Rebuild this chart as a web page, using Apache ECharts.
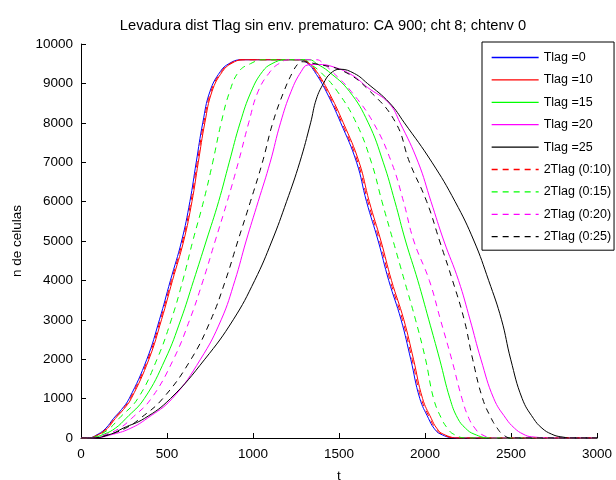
<!DOCTYPE html>
<html>
<head>
<meta charset="utf-8">
<script src="https://cdn.jsdelivr.net/npm/echarts@6/dist/echarts.min.js"></script>
<style>
html,body{margin:0;padding:0;background:#fff;}
#chart{width:616px;height:480px;}
</style>
</head>
<body>
<div id="chart"></div>
<script>
// ---- data (t, n de celulas) ----
var titleText = 'Levadura dist Tlag sin env. prematuro: CA 900; cht 8; chtenv 0';
var seriesNames = ['Tlag =0', 'Tlag =10', 'Tlag =15', 'Tlag =20', 'Tlag =25',
  '2Tlag (0:10)', '2Tlag (0:15)', '2Tlag (0:20)', '2Tlag (0:25)'];

var tlag0 = [[0,0],[40,0],[100,100],[145,250],[190,500],[235,720],[280,1000],[383,2000],[456,3000],[520,4000],[585,5000],[633,6000],[670,7000],[708,8000],[750,8800],[810,9300],[860,9500],[930,9600],[1270,9600],[1320,9500],[1358,9300],[1425,8800],[1510,8000],[1602,7000],[1660,6000],[1728,5000],[1789,4000],[1861,3000],[1917,2000],[1970,1000],[2020,500],[2052,250],[2090,100],[2180,0],[3000,0]];
var tlag10 = [[0,0],[45,0],[108,100],[155,250],[200,500],[246,720],[292,1000],[395,2000],[468,3000],[532,4000],[597,5000],[645,6000],[682,7000],[720,8000],[762,8800],[822,9300],[872,9500],[945,9600],[1280,9600],[1330,9500],[1370,9300],[1438,8800],[1525,8000],[1617,7000],[1676,6000],[1744,5000],[1805,4000],[1877,3000],[1933,2000],[1986,1000],[2036,500],[2068,250],[2105,100],[2200,0],[3000,0]];
var tlag15 = [[0,0],[50,0],[135,100],[200,250],[262,500],[368,1000],[490,2000],[580,3000],[655,4000],[728,5000],[800,6000],[862,7000],[925,8000],[990,8800],[1055,9300],[1110,9500],[1190,9600],[1330,9600],[1370,9500],[1440,9300],[1560,8800],[1670,8000],[1757,7000],[1825,6000],[1887,5000],[1958,4000],[2022,3000],[2085,2000],[2145,1000],[2190,500],[2235,250],[2285,100],[2380,0],[3000,0]];
var tlag20 = [[0,0],[65,0],[190,100],[290,250],[385,500],[530,1000],[695,2000],[815,3000],[895,4000],[960,5000],[1030,6000],[1100,7000],[1160,8000],[1222,8800],[1280,9300],[1320,9470],[1380,9480],[1467,9420],[1580,9200],[1665,8900],[1790,8500],[1855,8000],[1960,7000],[2035,6000],[2110,5000],[2195,4000],[2262,3000],[2325,2000],[2400,1000],[2470,500],[2520,250],[2570,100],[2620,30],[2780,0],[3000,0]];
var tlag25 = [[0,0],[60,0],[175,100],[245,250],[370,500],[520,1000],[720,2000],[885,3000],[1010,4000],[1110,5000],[1195,6000],[1272,7000],[1335,8000],[1368,8600],[1410,9000],[1450,9250],[1506,9360],[1590,9250],[1665,9000],[1795,8500],[1880,8000],[2040,7000],[2175,6000],[2285,5000],[2370,4000],[2445,3000],[2498,2000],[2565,1000],[2630,500],[2680,250],[2735,100],[2790,30],[2880,0],[3000,0]];
var tlag2_10 = [[0,0],[42,0],[104,100],[150,250],[195,500],[240,720],[286,1000],[389,2000],[462,3000],[526,4000],[591,5000],[639,6000],[676,7000],[714,8000],[756,8800],[816,9300],[866,9500],[938,9600],[1275,9600],[1325,9500],[1364,9300],[1431,8800],[1517,8000],[1609,7000],[1668,6000],[1736,5000],[1797,4000],[1869,3000],[1925,2000],[1978,1000],[2028,500],[2060,250],[2097,100],[2190,0],[3000,0]];
var tlag2_15 = [[0,0],[45,0],[115,100],[168,250],[222,500],[330,1000],[442,2000],[525,3000],[592,4000],[650,5000],[712,6000],[766,7000],[815,8000],[865,8800],[918,9300],[985,9500],[1060,9600],[1300,9600],[1330,9500],[1390,9300],[1490,8800],[1600,8000],[1688,7000],[1750,6000],[1815,5000],[1880,4000],[1945,3000],[2003,2000],[2050,1000],[2095,500],[2130,250],[2165,100],[2240,0],[3000,0]];
var tlag2_20 = [[0,0],[55,0],[150,100],[225,250],[295,500],[408,1000],[538,2000],[632,3000],[710,4000],[780,5000],[850,6000],[915,7000],[975,8000],[1030,8800],[1100,9300],[1150,9500],[1210,9600],[1370,9600],[1410,9500],[1460,9300],[1570,8800],[1700,8000],[1805,7000],[1875,6000],[1935,5000],[2025,4000],[2090,3000],[2155,2000],[2215,1000],[2255,500],[2290,250],[2325,100],[2400,0],[3000,0]];
var tlag2_25 = [[0,0],[60,0],[170,100],[260,250],[345,500],[475,1000],[640,2000],[755,3000],[840,4000],[912,5000],[985,6000],[1055,7000],[1115,8000],[1180,8800],[1232,9300],[1262,9500],[1280,9550],[1360,9500],[1530,9300],[1680,8800],[1830,8000],[1910,7000],[2010,6000],[2085,5000],[2160,4000],[2228,3000],[2277,2000],[2335,1000],[2385,500],[2420,250],[2450,100],[2500,0],[3000,0]];

var xTicks = {min: 0, max: 3000, step: 500};
var yTicks = {min: 0, max: 10000, step: 1000};

var seriesData = [tlag0, tlag10, tlag15, tlag20, tlag25, tlag2_10, tlag2_15, tlag2_20, tlag2_25];
var colors = ['#0000ff', '#ff0000', '#00ff00', '#ff00ff', '#000000', '#ff0000', '#00ff00', '#ff00ff', '#000000'];
var dashed = [false, false, false, false, false, true, true, true, true];

var FONT = 'Liberation Sans, Arial, Helvetica, sans-serif';

var chart = echarts.init(document.getElementById('chart'), null, {renderer: 'canvas'});

var series = seriesData.map(function (d, i) {
  return {
    name: seriesNames[i],
    type: 'line',
    data: d,
    symbol: 'none',
    smooth: 0.45,
    animation: false,
    lineStyle: {color: colors[i], width: 1, type: dashed[i] ? [6, 5] : 'solid'},
    itemStyle: {color: colors[i]},
    emphasis: {disabled: true}
  };
});

chart.setOption({
  animation: false,
  backgroundColor: '#ffffff',
  title: {
    text: titleText,
    left: 318,
    textAlign: 'center',
    top: 13,
    textStyle: {fontFamily: FONT, fontSize: 14.7, fontWeight: 'normal', color: '#000'}
  },
  grid: {left: 81, right: 19, top: 44, bottom: 42, containLabel: false, outerBoundsMode: 'none'},
  legend: {
    data: seriesNames,
    orient: 'vertical',
    left: 482,
    top: 42,
    padding: [9, 3, 7, 9],
    itemWidth: 47,
    itemHeight: 14,
    itemGap: 9.4,
    borderColor: '#000',
    borderWidth: 1,
    borderRadius: 0,
    backgroundColor: '#fff',
    itemStyle: {opacity: 0},
    lineStyle: {width: 1.3},
    textStyle: {fontFamily: FONT, fontSize: 12.5, color: '#000'},
    selectedMode: false
  },
  xAxis: {
    type: 'value',
    min: xTicks.min, max: xTicks.max, interval: xTicks.step,
    name: 't', nameLocation: 'middle', nameGap: 31,
    nameTextStyle: {fontFamily: FONT, fontSize: 13.5, color: '#000'},
    axisLine: {show: true, lineStyle: {color: '#000', width: 1}},
    axisTick: {show: true, inside: true, length: 5, lineStyle: {color: '#000'}},
    axisLabel: {fontFamily: FONT, fontSize: 13.5, color: '#000', margin: 9,
      formatter: function (v) { return String(v); }},
    splitLine: {show: false}
  },
  yAxis: {
    type: 'value',
    min: yTicks.min, max: yTicks.max, interval: yTicks.step,
    name: 'n de celulas', nameLocation: 'middle', nameGap: 45,
    nameTextStyle: {fontFamily: FONT, fontSize: 13.5, color: '#000'},
    axisLine: {show: true, lineStyle: {color: '#000', width: 1}},
    axisTick: {show: true, inside: true, length: 5, lineStyle: {color: '#000'}},
    axisLabel: {fontFamily: FONT, fontSize: 13.5, color: '#000', margin: 8,
      formatter: function (v) { return String(v); }},
    splitLine: {show: false}
  },
  series: series
});
</script>
</body>
</html>
